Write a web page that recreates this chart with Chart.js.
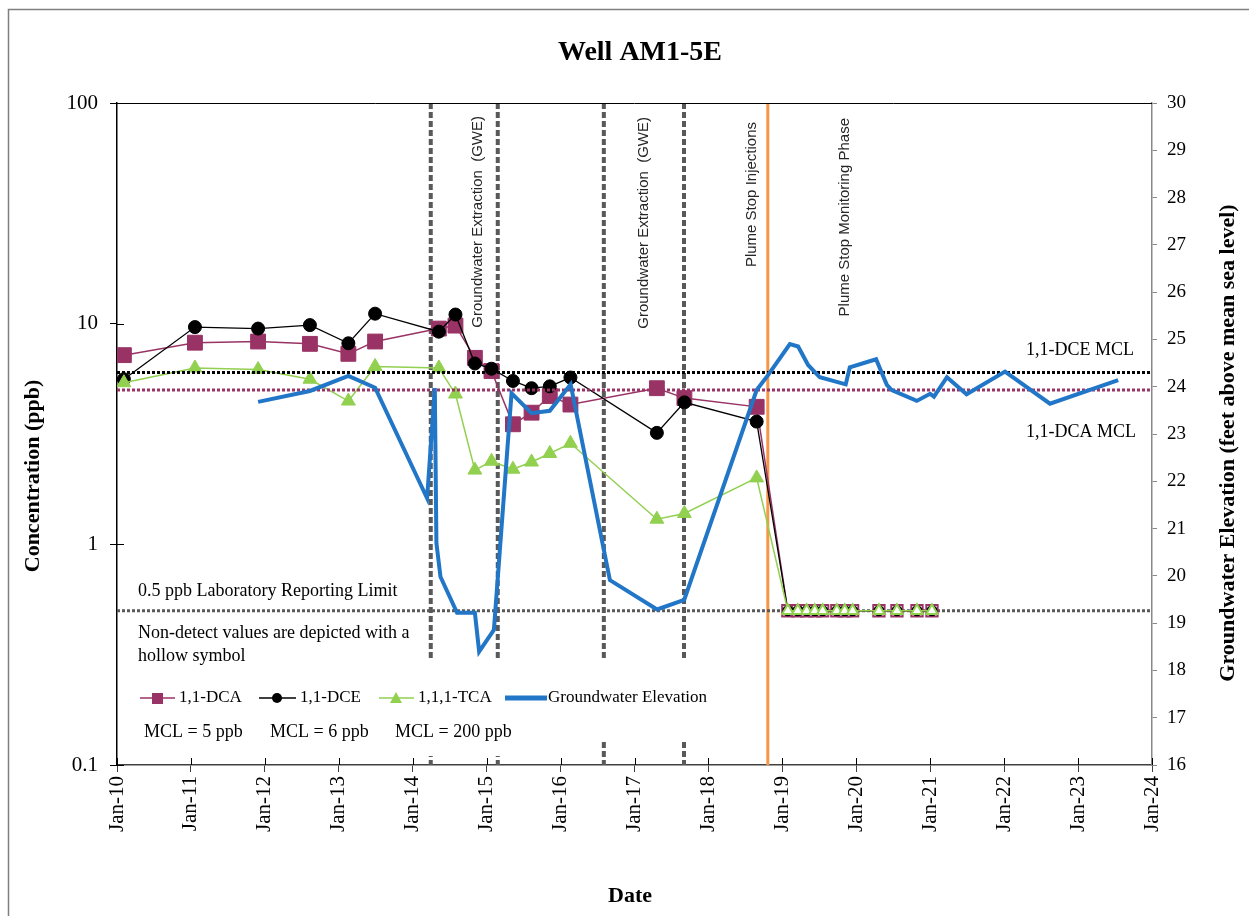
<!DOCTYPE html>
<html>
<head>
<meta charset="utf-8">
<title>Well AM1-5E</title>
<script src="https://cdn.jsdelivr.net/npm/chart.js@4.4.1/dist/chart.umd.min.js"></script>
<style>
  html, body { margin: 0; padding: 0; background: #fff; }
  #wrap { width: 1249px; height: 916px; position: relative; }
</style>
</head>
<body>
<div id="wrap"><canvas id="chart" width="1249" height="916"></canvas></div>
<script>
// ================= data =================
var sampleDates = ['2010-02-04', '2011-01-21', '2011-11-29', '2012-08-11', '2013-02-17', '2013-06-29',
                   '2014-05-10', '2014-07-31', '2014-11-04', '2015-01-25', '2015-05-11', '2015-08-11',
                   '2015-11-09', '2016-02-19', '2017-04-21', '2017-09-04', '2018-08-27'];
var dcaValues = [7.2, 8.2, 8.3, 8.1, 7.3, 8.3, 9.5, 9.8, 7.0, 6.1, 3.5, 3.95, 4.7, 4.3, 5.1, 4.6, 4.2];
var dceValues = [5.6, 9.65, 9.5, 9.85, 8.15, 11.1, 9.2, 11.0, 6.6, 6.25, 5.5, 5.1, 5.2, 5.7, 3.2, 4.4, 3.6];
var tcaValues = [5.4, 6.3, 6.2, 5.6, 4.46, 6.4, 6.3, 4.8, 2.17, 2.38, 2.19, 2.36, 2.58, 2.87, 1.30, 1.38, 2.0];

// non-detects, plotted at the reporting limit with hollow symbols
var ndDates = ['2019-01-28', '2019-03-18', '2019-05-01', '2019-06-10', '2019-07-19', '2019-09-27',
               '2019-11-05', '2019-12-14', '2020-04-22', '2020-07-20', '2020-10-27', '2021-01-09'];
var reportingLimit = 0.5;

var gweDates = ['2011-11-29', '2012-08-11', '2013-02-17', '2013-06-29', '2014-03-13', '2014-04-20',
                '2014-04-28', '2014-05-18', '2014-08-08', '2014-11-04', '2014-11-25', '2015-02-06',
                '2015-05-04', '2015-08-11', '2015-11-09', '2016-02-20', '2016-09-01', '2017-04-22',
                '2017-09-03', '2018-08-27', '2018-10-23', '2019-02-07', '2019-03-20', '2019-05-08',
                '2019-07-05', '2019-11-10', '2019-11-30', '2020-04-08', '2020-05-31', '2020-06-24',
                '2020-10-26', '2020-12-31', '2021-01-19', '2021-03-24', '2021-06-29', '2022-01-05',
                '2022-08-15', '2023-07-18'];
var gweValues = [23.68, 23.91, 24.23, 23.98, 21.64, 23.97, 20.69, 19.98, 19.22, 19.22, 18.40, 18.86,
                 23.86, 23.44, 23.49, 24.05, 19.91, 19.29, 19.49, 23.93, 24.25, 24.90, 24.85, 24.46,
                 24.20, 24.05, 24.41, 24.58, 24.04, 23.93, 23.70, 23.85, 23.79, 24.20, 23.84, 24.32,
                 23.64, 24.14];

var mclDCE = 6;
var mclDCA = 5;

var gweEventDates = ['2014-03-31', '2015-02-25', '2016-08-02', '2017-09-02'];
var injectionDate = '2018-10-21';

var yearTicks = [2010, 2011, 2012, 2013, 2014, 2015, 2016, 2017, 2018, 2019, 2020, 2021, 2022, 2023, 2024];
var concTicks = [0.1, 1, 10, 100];
var elevMin = 16, elevMax = 30;

// ================= helpers =================
var SERIF = '"Liberation Serif", "Times New Roman", serif';
var SANS = '"Liberation Sans", Arial, sans-serif';
var DCA_COLOR = '#993366';
var DCE_COLOR = '#000000';
var TCA_COLOR = '#92d050';
var GWE_COLOR = '#2176c7';

function t(d) { return Date.parse(d + 'T00:00:00Z'); }
var xMin = Date.UTC(yearTicks[0], 0, 1);
var xMax = Date.UTC(yearTicks[yearTicks.length - 1], 0, 1);

function concPoints(values) {
    var pts = sampleDates.map(function (d, i) { return { x: t(d), y: values[i], nd: false }; });
    ndDates.forEach(function (d) { pts.push({ x: t(d), y: reportingLimit, nd: true }); });
    return pts;
}
function flatLine(v) { return [{ x: xMin, y: v }, { x: xMax, y: v }]; }

function concDataset(label, values, color, style, radius, ndRadius, order, lineWidth) {
    return {
        label: label,
        data: concPoints(values),
        yAxisID: 'y',
        borderColor: color,
        borderWidth: lineWidth,
        pointStyle: style,
        pointRadius: function (c) { return c.raw && c.raw.nd ? ndRadius : radius; },
        pointBorderColor: color,
        pointBorderWidth: function (c) { return c.raw && c.raw.nd ? 2 : 1; },
        pointBackgroundColor: function (c) { return c.raw && c.raw.nd ? '#ffffff' : color; },
        tension: 0,
        order: order
    };
}

// ================= annotation plugin =================
var annotations = {
    id: 'annotations',
    beforeDatasetsDraw: function (chart) {
        var ctx = chart.ctx, a = chart.chartArea, xs = chart.scales.x;
        ctx.save();
        ctx.strokeStyle = '#595959';
        ctx.lineWidth = 4;
        ctx.setLineDash([6, 3]);
        gweEventDates.forEach(function (d) {
            var x = xs.getPixelForValue(t(d));
            ctx.beginPath(); ctx.moveTo(x, a.top); ctx.lineTo(x, a.bottom); ctx.stroke();
        });
        ctx.setLineDash([]);
        ctx.strokeStyle = '#f79646';
        ctx.lineWidth = 3;
        var xi = xs.getPixelForValue(t(injectionDate));
        ctx.beginPath(); ctx.moveTo(xi, a.top); ctx.lineTo(xi, a.bottom); ctx.stroke();
        ctx.restore();
    },
    afterDatasetsDraw: function (chart) {
        var ctx = chart.ctx, a = chart.chartArea;
        ctx.save();
        // white boxes behind legend and MCL notes
        ctx.fillStyle = '#ffffff';
        ctx.fillRect(a.left + 1, 658, 720 - a.left, 82);
        ctx.fillRect(a.left + 1, 700, 540 - a.left, 56);

        ctx.fillStyle = '#000';
        ctx.textBaseline = 'middle';
        ctx.textAlign = 'left';
        ctx.font = '18px ' + SERIF;
        ctx.fillText('0.5 ppb Laboratory Reporting Limit', 138, 591);
        ctx.fillText('Non-detect values are depicted with a', 138, 633);
        ctx.fillText('hollow symbol', 138, 656);
        ctx.fillText('MCL = 5 ppb', 144, 732);
        ctx.fillText('MCL = 6 ppb', 270, 732);
        ctx.fillText('MCL = 200 ppb', 395, 732);
        ctx.fillText('1,1-DCE MCL', 1026, 350);
        ctx.fillText('1,1-DCA MCL', 1026, 432);

        // legend
        var ly = 698;
        ctx.font = '17px ' + SERIF;
        ctx.lineWidth = 1.5;
        ctx.strokeStyle = DCA_COLOR;
        ctx.beginPath(); ctx.moveTo(140, ly); ctx.lineTo(175, ly); ctx.stroke();
        ctx.fillStyle = DCA_COLOR; ctx.fillRect(152, ly - 5, 11, 11);
        ctx.strokeStyle = DCE_COLOR;
        ctx.beginPath(); ctx.moveTo(259, ly); ctx.lineTo(296, ly); ctx.stroke();
        ctx.fillStyle = DCE_COLOR; ctx.beginPath(); ctx.arc(277, ly, 5, 0, Math.PI * 2); ctx.fill();
        ctx.strokeStyle = TCA_COLOR;
        ctx.beginPath(); ctx.moveTo(379, ly); ctx.lineTo(414, ly); ctx.stroke();
        ctx.fillStyle = TCA_COLOR; ctx.beginPath();
        ctx.moveTo(396, ly - 6); ctx.lineTo(402, ly + 5); ctx.lineTo(390, ly + 5); ctx.closePath(); ctx.fill();
        ctx.strokeStyle = GWE_COLOR; ctx.lineWidth = 5;
        ctx.beginPath(); ctx.moveTo(505, ly); ctx.lineTo(547, ly); ctx.stroke();
        ctx.fillStyle = '#000';
        ctx.fillText('1,1-DCA', 179, ly);
        ctx.fillText('1,1-DCE', 300, ly);
        ctx.fillText('1,1,1-TCA', 418, ly);
        ctx.fillText('Groundwater Elevation', 548, ly);

        // rotated event labels
        ctx.font = '15px ' + SANS;
        ctx.fillStyle = '#262626';
        [['Groundwater Extraction  (GWE)', 478, 116],
         ['Groundwater Extraction  (GWE)', 644, 117],
         ['Plume Stop Injections', 752, 122],
         ['Plume Stop Monitoring Phase', 845, 118]].forEach(function (l) {
            ctx.save();
            ctx.translate(l[1], l[2]);
            ctx.rotate(-Math.PI / 2);
            ctx.textAlign = 'right';
            ctx.fillText(l[0], 0, 0);
            ctx.restore();
        });
        ctx.restore();
    },
    afterDraw: function (chart) {
        var ctx = chart.ctx, a = chart.chartArea;
        ctx.save();
        // outer frame
        ctx.strokeStyle = '#7f7f7f';
        ctx.lineWidth = 1.5;
        ctx.strokeRect(8.5, 9.5, 1300, 1000);
        // top border of plot area
        ctx.strokeStyle = '#000';
        ctx.lineWidth = 1;
        ctx.beginPath(); ctx.moveTo(a.left, a.top + 0.5); ctx.lineTo(a.right, a.top + 0.5); ctx.stroke();
        // inner halves of crossing ticks
        ctx.beginPath();
        concTicks.forEach(function (v) {
            var y = Math.round(chart.scales.y.getPixelForValue(v)) + 0.5;
            ctx.moveTo(a.left, y); ctx.lineTo(a.left + 7, y);
        });
        yearTicks.forEach(function (yr) {
            var x = Math.round(chart.scales.x.getPixelForValue(Date.UTC(yr, 0, 1))) + 0.5;
            ctx.moveTo(x, a.bottom); ctx.lineTo(x, a.bottom - 7);
        });
        ctx.stroke();

        // titles
        ctx.fillStyle = '#000';
        ctx.textAlign = 'center';
        ctx.textBaseline = 'middle';
        ctx.font = 'bold 28px ' + SERIF;
        ctx.fillText('Well AM1-5E', 640, 53);
        ctx.font = 'bold 22px ' + SERIF;
        ctx.fillText('Date', 630, 896);
        ctx.save();
        ctx.translate(33, 476); ctx.rotate(-Math.PI / 2);
        ctx.fillText('Concentration (ppb)', 0, 0);
        ctx.restore();
        ctx.save();
        ctx.translate(1228, 443); ctx.rotate(-Math.PI / 2);
        ctx.fillText('Groundwater Elevation (feet above mean sea level)', 0, 0);
        ctx.restore();
        ctx.restore();
    }
};

// ================= chart =================
var chart = new Chart(document.getElementById('chart'), {
    type: 'line',
    data: {
        datasets: [
            {
                label: 'Groundwater Elevation',
                data: gweDates.map(function (d, i) { return { x: t(d), y: gweValues[i] }; }),
                yAxisID: 'y2',
                borderColor: GWE_COLOR,
                borderWidth: 4,
                pointRadius: 0,
                tension: 0,
                order: 0
            },
            {
                label: '1,1-DCE MCL',
                data: flatLine(mclDCE),
                yAxisID: 'y',
                borderColor: '#000',
                borderWidth: 3,
                borderDash: [3, 2],
                pointRadius: 0,
                order: 1
            },
            {
                label: '1,1-DCA MCL',
                data: flatLine(mclDCA),
                yAxisID: 'y',
                borderColor: DCA_COLOR,
                borderWidth: 3,
                borderDash: [3, 2],
                pointRadius: 0,
                order: 1
            },
            {
                label: 'Reporting Limit',
                data: flatLine(reportingLimit),
                yAxisID: 'y',
                borderColor: '#595959',
                borderWidth: 3,
                borderDash: [3, 2],
                pointRadius: 0,
                order: 5
            },
            concDataset('1,1,1-TCA', tcaValues, TCA_COLOR, 'triangle', 8, 6.5, 2, 1.5),
            concDataset('1,1-DCE', dceValues, DCE_COLOR, 'circle', 6.5, 4.5, 3, 1.3),
            concDataset('1,1-DCA', dcaValues, DCA_COLOR, 'rect', 10.5, 8, 4, 1.5)
        ]
    },
    options: {
        responsive: false,
        animation: false,
        devicePixelRatio: 1,
        layout: { padding: { top: 103, left: 0, right: 0, bottom: 0 } },
        plugins: { legend: { display: false }, tooltip: { enabled: false }, title: { display: false } },
        scales: {
            x: {
                type: 'linear',
                min: xMin,
                max: xMax,
                afterBuildTicks: function (scale) {
                    scale.ticks = yearTicks.map(function (y) { return { value: Date.UTC(y, 0, 1) }; });
                },
                afterFit: function (scale) { scale.height = 151; },
                ticks: {
                    autoSkip: false,
                    minRotation: 90,
                    maxRotation: 90,
                    padding: 4,
                    color: '#000',
                    font: { family: SERIF, size: 21 },
                    callback: function (v) { return 'Jan-' + String(new Date(v).getUTCFullYear()).slice(2); }
                },
                grid: { drawOnChartArea: false, tickLength: 7, color: '#404040' },
                border: { color: '#404040', width: 1.5 }
            },
            y: {
                type: 'logarithmic',
                position: 'left',
                min: concTicks[0],
                max: concTicks[concTicks.length - 1],
                afterBuildTicks: function (scale) {
                    scale.ticks = concTicks.map(function (v) { return { value: v, major: true }; });
                },
                afterFit: function (scale) { scale.width = 117; },
                ticks: {
                    padding: 12,
                    color: '#000',
                    font: { family: SERIF, size: 21 },
                    callback: function (v) { return String(v); }
                },
                grid: { drawOnChartArea: false, tickLength: 7, color: '#000' },
                border: { color: '#000', width: 1.5 }
            },
            y2: {
                type: 'linear',
                position: 'right',
                min: elevMin,
                max: elevMax,
                afterFit: function (scale) { scale.width = 97; },
                ticks: {
                    stepSize: 1,
                    padding: 10,
                    color: '#000',
                    font: { family: SERIF, size: 19 }
                },
                grid: { drawOnChartArea: false, tickLength: 5, color: '#888' },
                border: { color: '#888', width: 1.5 }
            }
        }
    },
    plugins: [annotations]
});
</script>
</body>
</html>
